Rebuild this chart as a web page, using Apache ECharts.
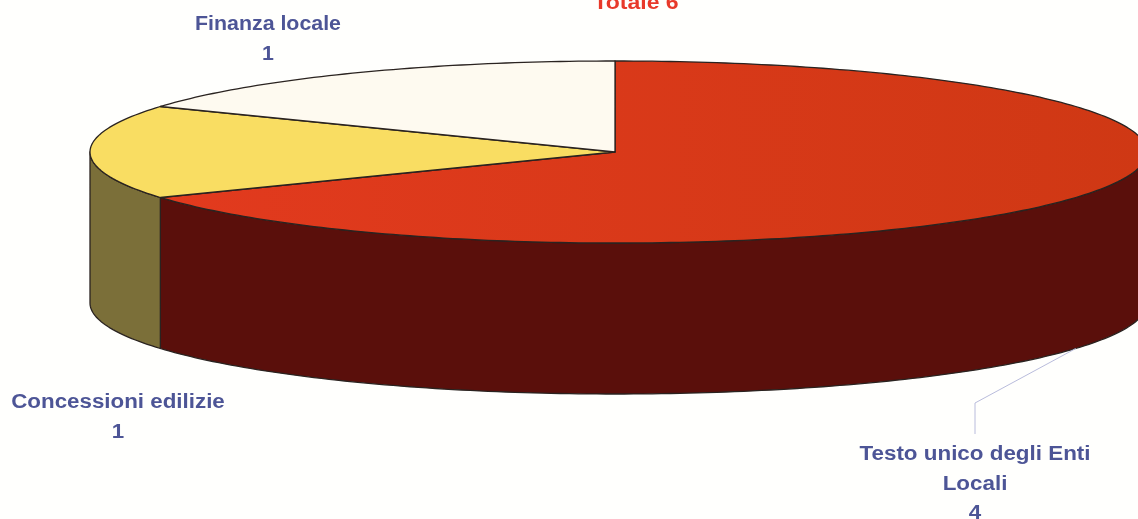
<!DOCTYPE html>
<html><head><meta charset="utf-8">
<style>html,body{margin:0;padding:0;background:#fffffd}#c{width:1138px;height:519px}</style>
<script src="https://cdn.jsdelivr.net/npm/echarts@6/dist/echarts.min.js"></script>
</head><body><div id="c"></div>
<script>
const categories = ['Testo unico degli Enti\nLocali', 'Concessioni edilizie', 'Finanza locale'];
const values = [4, 1, 1];
const titleText = 'Totale 6';
const topColors = ['#d8381a', '#f9dd62', '#fefaf0'];
const wallColors = ['#5a0f0b', '#7b6f39', '#8a8570'];
const labelAnchors = [[975, 440], [118, 388], [268, 10]];
const labelStretch = [1.12, 1.117, 1.067];

const cx = 615, cy = 152, rxLeft = 525, rxRight = 532, ry = 91, depth = 151;
const total = values.reduce((a, b) => a + b, 0);
const pt = (deg, dy) => {
  const t = deg * Math.PI / 180;
  const s = Math.sin(t);
  return [cx + (s >= 0 ? rxRight : rxLeft) * s, cy - ry * Math.cos(t) + (dy || 0)];
};
const arc = (a, b, dy) => {
  const out = [];
  const n = Math.max(1, Math.ceil(Math.abs(b - a)));
  for (let i = 0; i <= n; i++) out.push(pt(a + (b - a) * i / n, dy));
  return out;
};
const edge = { stroke: '#2a2320', lineWidth: 1.3, lineJoin: 'round' };
const textFont = 'bold 20px "Liberation Sans", Arial, sans-serif';

function renderItem(params, api) {
  const i = params.dataIndex;
  let before = 0;
  for (let k = 0; k < i; k++) before += values[k];
  const a0 = before / total * 360;
  const a1 = (before + api.value(0)) / total * 360;
  const children = [];
  const w0 = Math.max(a0, 90), w1 = Math.min(a1, 270);
  if (w1 > w0) {
    children.push({
      type: 'polygon',
      shape: { points: arc(w0, w1, 0).concat(arc(w1, w0, depth)) },
      style: Object.assign({ fill: wallColors[i] }, edge)
    });
  }
  const fill = i === 0
    ? { type: 'linear', x: 0, y: 0, x2: 1, y2: 0,
        colorStops: [{ offset: 0, color: '#e23a1e' }, { offset: 1, color: '#cf3814' }] }
    : topColors[i];
  children.push({
    type: 'polygon',
    shape: { points: [[cx, cy]].concat(arc(a0, a1, 0)) },
    style: Object.assign({ fill }, edge)
  });
  const anchor = labelAnchors[i];
  children.push({
    type: 'text',
    x: anchor[0], y: anchor[1],
    scaleX: labelStretch[i],
    style: {
      x: 0, y: 0, text: categories[i] + '\n' + api.value(0),
      align: 'center', verticalAlign: 'top', lineHeight: 29.5,
      fill: '#4d5596', font: textFont
    },
    z2: 5
  });
  if (i === 0) {
    const mid = pt((a0 + a1) / 2, depth);
    children.push({
      type: 'polyline',
      shape: { points: [mid, [975, 403], [975, 434]] },
      style: { stroke: '#b9bcdc', lineWidth: 1, fill: null },
      z2: 4
    });
  }
  if (i === values.length - 1) {
    children.push({
      type: 'text',
      x: 636, y: -7,
      scaleX: 1.15,
      style: { x: 0, y: 0, text: titleText, align: 'center', verticalAlign: 'top',
               fill: '#e8392a', font: textFont },
      z2: 5
    });
  }
  return { type: 'group', children };
}

const chart = echarts.init(document.getElementById('c'), null, { renderer: 'canvas' });
chart.setOption({
  animation: false,
  backgroundColor: '#fffffd',
  series: [{
    type: 'custom',
    coordinateSystem: 'none',
    silent: true,
    clip: false,
    data: values.map(v => [v]),
    renderItem
  }]
});
</script></body></html>
